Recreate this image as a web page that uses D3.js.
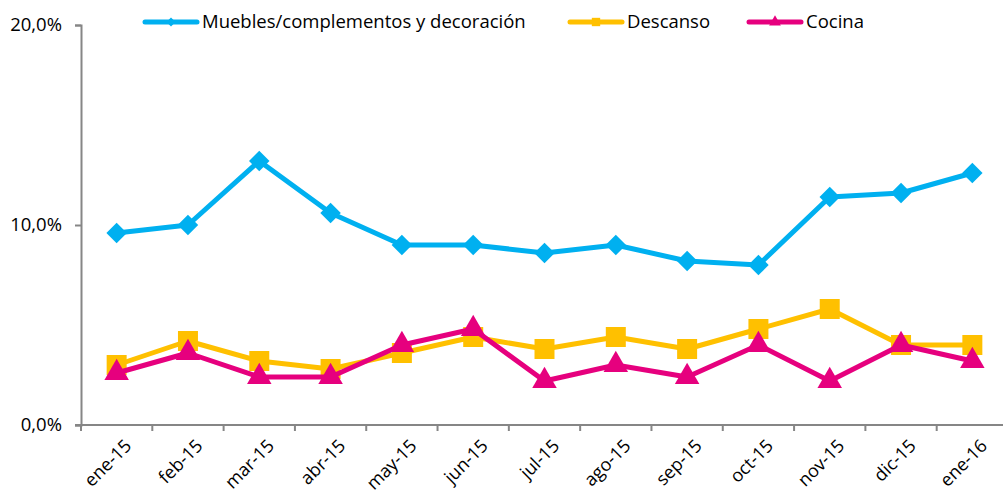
<!DOCTYPE html>
<html>
<head>
<meta charset="utf-8">
<script src="https://cdn.jsdelivr.net/npm/d3@7"></script>
<style>
  body { margin: 0; background: #fff; }
  text { font-family: "Open Sans", "Noto Sans", sans-serif; fill: #000; }
</style>
</head>
<body>
<div id="chart"></div>
<script>
const months = ["ene-15", "feb-15", "mar-15", "abr-15", "may-15", "jun-15", "jul-15",
                "ago-15", "sep-15", "oct-15", "nov-15", "dic-15", "ene-16"];
const muebles = [9.6, 10.0, 13.2, 10.6, 9.0, 9.0, 8.6, 9.0, 8.2, 8.0, 11.4, 11.6, 12.6];
const descanso = [3.0, 4.2, 3.2, 2.8, 3.6, 4.4, 3.8, 4.4, 3.8, 4.8, 5.8, 4.0, 4.0];
const cocina = [2.6, 3.6, 2.4, 2.4, 4.0, 4.8, 2.2, 3.0, 2.4, 4.0, 2.2, 4.0, 3.2];
const yTicks = [0, 10, 20];

const series = [
  {name: "Muebles/complementos y decoración", values: muebles, color: "#00B0F0", symbol: d3.symbolSquare, rot: 45, size: 210, lsize: 40},
  {name: "Descanso", values: descanso, color: "#FFC000", symbol: d3.symbolSquare, rot: 0, size: 400, lsize: 70},
  {name: "Cocina", values: cocina, color: "#E6007E", symbol: d3.symbolTriangle, rot: 0, size: 260, lsize: 60}
];

const width = 1003;
const height = 497;
const margin = {top: 25, right: -5, bottom: 72, left: 81};

const svg = d3.select("#chart")
  .append("svg")
    .attr("width", width)
    .attr("height", height);

const x = d3.scaleBand()
  .domain(months)
  .range([margin.left, width - margin.right]);

const y = d3.scaleLinear()
  .domain([0, 20])
  .range([height - margin.bottom, margin.top]);

// y axis
const yAxis = svg.append("g")
  .attr("transform", "translate(" + margin.left + ",0)")
  .call(d3.axisLeft(y).tickValues(yTicks).tickSize(6).tickPadding(13)
    .tickFormat(d => d.toFixed(1).replace(".", ",") + "%"));
yAxis.select(".domain").attr("stroke", "#868686").attr("stroke-width", 2);
yAxis.selectAll(".tick line").attr("stroke", "#868686").attr("stroke-width", 2);
yAxis.selectAll(".tick text").style("font-size", "18.5px").attr("font-family", null);

// x axis, ticks between categories
const xAxis = svg.append("g")
  .attr("transform", "translate(0," + y(0) + ")");
xAxis.append("line")
  .attr("x1", margin.left - 6)
  .attr("x2", width)
  .attr("stroke", "#868686")
  .attr("stroke-width", 2);
xAxis.selectAll("line.tk")
  .data(months)
  .enter()
  .append("line")
    .attr("class", "tk")
    .attr("x1", d => x(d))
    .attr("x2", d => x(d))
    .attr("y1", 0)
    .attr("y2", 6)
    .attr("stroke", "#868686")
    .attr("stroke-width", 2);
xAxis.selectAll("text")
  .data(months)
  .enter()
  .append("text")
    .attr("text-anchor", "end")
    .attr("transform", d => "translate(" + (x(d) + x.bandwidth() / 2 + 7) + ",13) rotate(-45)")
    .attr("dy", "0.7em")
    .style("font-size", "18px")
    .text(d => d);

// lines and markers
const line = d3.line()
  .x((d, i) => x(months[i]) + x.bandwidth() / 2)
  .y(d => y(d));

series.forEach(s => {
  svg.append("path")
    .datum(s.values)
    .attr("fill", "none")
    .attr("stroke", s.color)
    .attr("stroke-width", 5)
    .attr("stroke-linejoin", "round")
    .attr("d", line);

  svg.selectAll(null)
    .data(s.values)
    .enter()
    .append("path")
      .attr("d", d3.symbol().type(s.symbol).size(s.size))
      .attr("transform", (d, i) => "translate(" + (x(months[i]) + x.bandwidth() / 2) + "," + y(d) + ") rotate(" + s.rot + ")")
      .attr("fill", s.color);
});

// legend
const legendPos = [143, 568, 747];
const legend = svg.append("g").attr("transform", "translate(0,22)");
series.forEach((s, i) => {
  const g = legend.append("g").attr("transform", "translate(" + legendPos[i] + ",0)");
  g.append("line")
    .attr("x1", 2).attr("x2", 54)
    .attr("stroke", s.color)
    .attr("stroke-width", 5)
    .attr("stroke-linecap", "round");
  g.append("path")
    .attr("d", d3.symbol().type(s.symbol).size(s.lsize))
    .attr("transform", "translate(28,0) rotate(" + s.rot + ")")
    .attr("fill", s.color);
  g.append("text")
    .attr("x", 59)
    .attr("dy", "0.35em")
    .style("font-size", "18.5px")
    .text(s.name);
});
</script>
</body>
</html>
